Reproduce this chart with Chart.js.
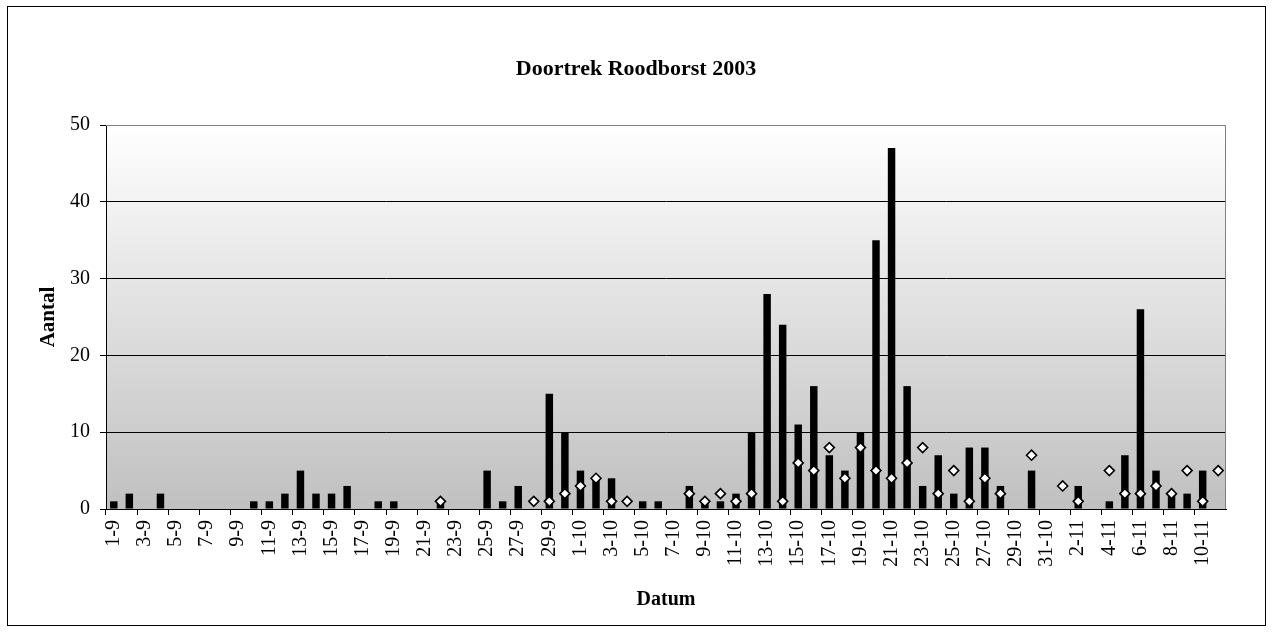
<!DOCTYPE html>
<html>
<head>
<meta charset="utf-8">
<script src="https://cdn.jsdelivr.net/npm/chart.js@4.4.1/dist/chart.umd.min.js"></script>
<style>
  html, body { margin: 0; padding: 0; background: #fff; }
  #wrap { width: 1272px; height: 633px; }
</style>
</head>
<body>
<div id="wrap"><canvas id="roodborstChart" width="1272" height="633"></canvas></div>
<script>
// ------------------------------------------------------
// gegevens
// ------------------------------------------------------
const datums = [
  '1-9','2-9','3-9','4-9','5-9','6-9','7-9','8-9','9-9','10-9',
  '11-9','12-9','13-9','14-9','15-9','16-9','17-9','18-9','19-9','20-9',
  '21-9','22-9','23-9','24-9','25-9','26-9','27-9','28-9','29-9','30-9',
  '1-10','2-10','3-10','4-10','5-10','6-10','7-10','8-10','9-10','10-10',
  '11-10','12-10','13-10','14-10','15-10','16-10','17-10','18-10','19-10','20-10',
  '21-10','22-10','23-10','24-10','25-10','26-10','27-10','28-10','29-10','30-10',
  '31-10','1-11','2-11','3-11','4-11','5-11','6-11','7-11','8-11','9-11',
  '10-11','11-11'
];

// staven (aantal per dag)
const aantal = [
  1, 2, 0, 2, 0, 0, 0, 0, 0, 1,
  1, 2, 5, 2, 2, 3, 0, 1, 1, 0,
  0, 1, 0, 0, 5, 1, 3, 0, 15, 10,
  5, 4, 4, 0, 1, 1, 0, 3, 1, 1,
  2, 10, 28, 24, 11, 16, 7, 5, 10, 35,
  47, 16, 3, 7, 2, 8, 8, 3, 0, 5,
  0, 0, 3, 0, 1, 7, 26, 5, 2, 2,
  5, 0
];

// ruitjes (tweede reeks)
const n = null;
const ruitjes = [
  n, n, n, n, n, n, n, n, n, n,
  n, n, n, n, n, n, n, n, n, n,
  n, 1, n, n, n, n, n, 1, 1, 2,
  3, 4, 1, 1, n, n, n, 2, 1, 2,
  1, 2, n, 1, 6, 5, 8, 4, 8, 5,
  4, 6, 8, 2, 5, 1, 4, 2, n, 7,
  n, 3, 1, n, 5, 2, 2, 3, 2, 5,
  1, 5
];

const yTicks = [0, 10, 20, 30, 40, 50];

const SERIF = "'Times New Roman', 'Liberation Serif', serif";

// ------------------------------------------------------
// achtergrond, kader en titel
// ------------------------------------------------------
const kaderPlugin = {
  id: 'kader',
  beforeDraw(chart) {
    const { ctx, chartArea: a } = chart;
    ctx.save();
    ctx.fillStyle = '#ffffff';
    ctx.fillRect(0, 0, chart.width, chart.height);
    const g = ctx.createLinearGradient(0, a.top, 0, a.bottom);
    g.addColorStop(0, '#ffffff');
    g.addColorStop(1, '#c0c0c0');
    ctx.fillStyle = g;
    ctx.fillRect(a.left, a.top, a.right - a.left, a.bottom - a.top);
    ctx.restore();
  },
  afterDraw(chart) {
    const { ctx, chartArea: a } = chart;
    ctx.save();
    // rand van het plotgebied
    ctx.strokeStyle = '#808080';
    ctx.lineWidth = 1;
    ctx.beginPath();
    ctx.moveTo(a.left, a.top + 0.5);
    ctx.lineTo(a.right - 0.5, a.top + 0.5);
    ctx.lineTo(a.right - 0.5, a.bottom);
    ctx.stroke();
    // buitenkader
    ctx.strokeStyle = '#000000';
    ctx.strokeRect(7.5, 6.5, 1258, 619);
    // titel
    ctx.fillStyle = '#000';
    ctx.font = 'bold 22px ' + SERIF;
    ctx.textAlign = 'center';
    ctx.textBaseline = 'middle';
    ctx.fillText('Doortrek Roodborst 2003', 636, 69);
    ctx.restore();
  }
};

// ------------------------------------------------------
// grafiek
// ------------------------------------------------------
const ctx = document.getElementById('roodborstChart').getContext('2d');

new Chart(ctx, {
  type: 'bar',
  data: {
    labels: datums,
    datasets: [
      {
        type: 'line',
        label: 'ruitjes',
        data: ruitjes,
        showLine: false,
        pointStyle: 'rectRot',
        pointRadius: 5,
        pointBackgroundColor: '#ffffff',
        pointBorderColor: '#000000',
        pointBorderWidth: 1.6,
        order: 0
      },
      {
        label: 'Aantal',
        data: aantal,
        backgroundColor: '#000000',
        borderWidth: 0,
        categoryPercentage: 1,
        barPercentage: 0.48,
        order: 1
      }
    ]
  },
  options: {
    responsive: false,
    animation: false,
    events: [],
    layout: { padding: { top: 125, left: 8, right: 46, bottom: 8 } },
    plugins: {
      legend: { display: false },
      tooltip: { enabled: false },
      title: { display: false }
    },
    scales: {
      x: {
        offset: true,
        grid: {
          offset: true,
          drawOnChartArea: false,
          drawTicks: true,
          tickLength: 6,
          tickColor: c => (c.index % 2 === 0 ? '#000' : 'rgba(0,0,0,0)')
        },
        border: { display: true, color: '#000', width: 1 },
        ticks: {
          autoSkip: false,
          minRotation: 90,
          maxRotation: 90,
          padding: 5,
          color: '#000',
          font: { family: SERIF, size: 20 },
          callback: (v, i) => (i % 2 === 0 ? datums[i] : '')
        },
        title: {
          display: true,
          text: 'Datum',
          color: '#000',
          font: { family: SERIF, size: 20, weight: 'bold' },
          padding: { top: 0, bottom: 13 }
        },
        afterFit: s => { s.height = 116; }
      },
      y: {
        min: 0,
        max: 50,
        afterBuildTicks: s => { s.ticks = yTicks.map(v => ({ value: v })); },
        grid: {
          color: c => (c.tick && c.tick.value === 50 ? '#808080' : '#000'),
          lineWidth: 1,
          tickLength: 6,
          tickColor: '#000'
        },
        border: { display: true, color: '#000', width: 1 },
        ticks: {
          padding: 10,
          color: '#000',
          font: { family: SERIF, size: 20 }
        },
        title: {
          display: true,
          text: 'Aantal',
          color: '#000',
          font: { family: SERIF, size: 21, weight: 'bold' },
          padding: { top: 28, bottom: 0 }
        },
        afterFit: s => { s.width = 98; }
      }
    }
  },
  plugins: [kaderPlugin]
});
</script>
</body>
</html>
